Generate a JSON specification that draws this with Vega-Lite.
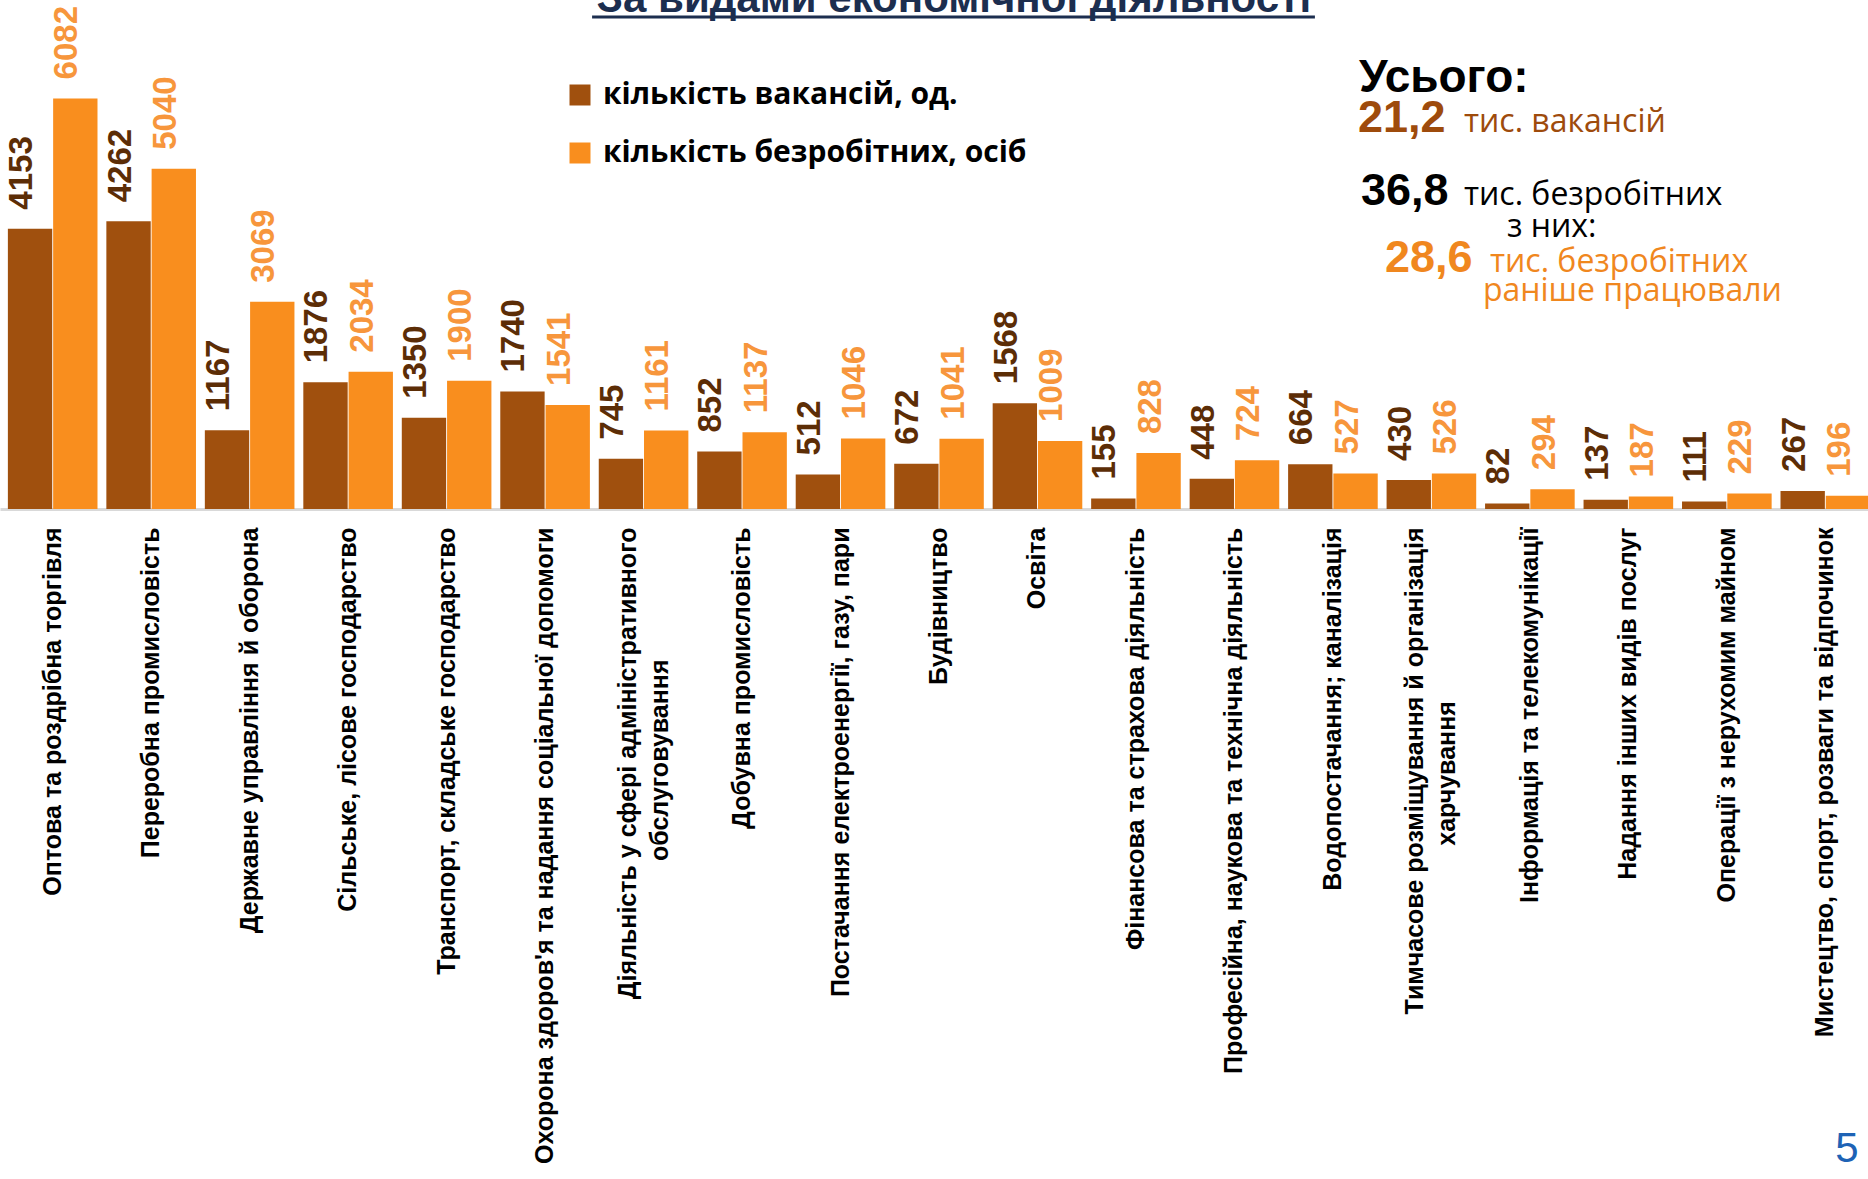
{
  "$schema": "https://vega.github.io/schema/vega-lite/v6.json",
  "width": 1868,
  "height": 509,
  "autosize": "none",
  "padding": {"left": 0, "top": 0, "right": 0, "bottom": 670},
  "background": "#ffffff",
  "config": {"view": {"stroke": null}, "font": "Liberation Sans"},
  "datasets": {
    "bars": [
      {"cat": "Оптова та роздрібна торгівля", "series": "кількість вакансій, од.", "value": 4153},
      {"cat": "Оптова та роздрібна торгівля", "series": "кількість безробітних, осіб", "value": 6082},
      {"cat": "Переробна промисловість", "series": "кількість вакансій, од.", "value": 4262},
      {"cat": "Переробна промисловість", "series": "кількість безробітних, осіб", "value": 5040},
      {"cat": "Державне управління й оборона", "series": "кількість вакансій, од.", "value": 1167},
      {"cat": "Державне управління й оборона", "series": "кількість безробітних, осіб", "value": 3069},
      {"cat": "Сільське, лісове господарство", "series": "кількість вакансій, од.", "value": 1876},
      {"cat": "Сільське, лісове господарство", "series": "кількість безробітних, осіб", "value": 2034},
      {"cat": "Транспорт, складське господарство", "series": "кількість вакансій, од.", "value": 1350},
      {"cat": "Транспорт, складське господарство", "series": "кількість безробітних, осіб", "value": 1900},
      {"cat": "Охорона здоров'я та надання соціальної допомоги", "series": "кількість вакансій, од.", "value": 1740},
      {"cat": "Охорона здоров'я та надання соціальної допомоги", "series": "кількість безробітних, осіб", "value": 1541},
      {"cat": "Діяльність у сфері адміністративного|обслуговування\u00a0\u00a0\u00a0\u00a0\u00a0\u00a0\u00a0\u00a0\u00a0\u00a0\u00a0\u00a0\u00a0\u00a0\u00a0\u00a0\u00a0\u00a0\u00a0\u200b", "series": "кількість вакансій, од.", "value": 745},
      {"cat": "Діяльність у сфері адміністративного|обслуговування\u00a0\u00a0\u00a0\u00a0\u00a0\u00a0\u00a0\u00a0\u00a0\u00a0\u00a0\u00a0\u00a0\u00a0\u00a0\u00a0\u00a0\u00a0\u00a0\u200b", "series": "кількість безробітних, осіб", "value": 1161},
      {"cat": "Добувна промисловість", "series": "кількість вакансій, од.", "value": 852},
      {"cat": "Добувна промисловість", "series": "кількість безробітних, осіб", "value": 1137},
      {"cat": "Постачання електроенергії, газу, пари", "series": "кількість вакансій, од.", "value": 512},
      {"cat": "Постачання електроенергії, газу, пари", "series": "кількість безробітних, осіб", "value": 1046},
      {"cat": "Будівництво", "series": "кількість вакансій, од.", "value": 672},
      {"cat": "Будівництво", "series": "кількість безробітних, осіб", "value": 1041},
      {"cat": "Освіта", "series": "кількість вакансій, од.", "value": 1568},
      {"cat": "Освіта", "series": "кількість безробітних, осіб", "value": 1009},
      {"cat": "Фінансова та страхова діяльність", "series": "кількість вакансій, од.", "value": 155},
      {"cat": "Фінансова та страхова діяльність", "series": "кількість безробітних, осіб", "value": 828},
      {"cat": "Професійна, наукова та технічна діяльність", "series": "кількість вакансій, од.", "value": 448},
      {"cat": "Професійна, наукова та технічна діяльність", "series": "кількість безробітних, осіб", "value": 724},
      {"cat": "Водопостачання; каналізація", "series": "кількість вакансій, од.", "value": 664},
      {"cat": "Водопостачання; каналізація", "series": "кількість безробітних, осіб", "value": 527},
      {"cat": "Тимчасове розміщування й організація|харчування\u00a0\u00a0\u00a0\u00a0\u00a0\u00a0\u00a0\u00a0\u00a0\u00a0\u00a0\u00a0\u00a0\u00a0\u00a0\u00a0\u00a0\u00a0\u00a0\u00a0\u00a0\u00a0\u00a0\u00a0\u00a0\u200b", "series": "кількість вакансій, од.", "value": 430},
      {"cat": "Тимчасове розміщування й організація|харчування\u00a0\u00a0\u00a0\u00a0\u00a0\u00a0\u00a0\u00a0\u00a0\u00a0\u00a0\u00a0\u00a0\u00a0\u00a0\u00a0\u00a0\u00a0\u00a0\u00a0\u00a0\u00a0\u00a0\u00a0\u00a0\u200b", "series": "кількість безробітних, осіб", "value": 526},
      {"cat": "Інформація та телекомунікації", "series": "кількість вакансій, од.", "value": 82},
      {"cat": "Інформація та телекомунікації", "series": "кількість безробітних, осіб", "value": 294},
      {"cat": "Надання інших видів послуг", "series": "кількість вакансій, од.", "value": 137},
      {"cat": "Надання інших видів послуг", "series": "кількість безробітних, осіб", "value": 187},
      {"cat": "Операції з нерухомим майном", "series": "кількість вакансій, од.", "value": 111},
      {"cat": "Операції з нерухомим майном", "series": "кількість безробітних, осіб", "value": 229},
      {"cat": "Мистецтво, спорт, розваги та відпочинок", "series": "кількість вакансій, од.", "value": 267},
      {"cat": "Мистецтво, спорт, розваги та відпочинок", "series": "кількість безробітних, осіб", "value": 196}
    ]
  },
  "layer": [
    {
      "data": {"name": "bars"},
      "mark": {"type": "bar"},
      "encoding": {
        "x": {
          "field": "cat", "type": "nominal",
          "scale": {
            "domain": ["Оптова та роздрібна торгівля", "Переробна промисловість", "Державне управління й оборона", "Сільське, лісове господарство", "Транспорт, складське господарство", "Охорона здоров'я та надання соціальної допомоги", "Діяльність у сфері адміністративного|обслуговування\u00a0\u00a0\u00a0\u00a0\u00a0\u00a0\u00a0\u00a0\u00a0\u00a0\u00a0\u00a0\u00a0\u00a0\u00a0\u00a0\u00a0\u00a0\u00a0\u200b", "Добувна промисловість", "Постачання електроенергії, газу, пари", "Будівництво", "Освіта", "Фінансова та страхова діяльність", "Професійна, наукова та технічна діяльність", "Водопостачання; каналізація", "Тимчасове розміщування й організація|харчування\u00a0\u00a0\u00a0\u00a0\u00a0\u00a0\u00a0\u00a0\u00a0\u00a0\u00a0\u00a0\u00a0\u00a0\u00a0\u00a0\u00a0\u00a0\u00a0\u00a0\u00a0\u00a0\u00a0\u00a0\u00a0\u200b", "Інформація та телекомунікації", "Надання інших видів послуг", "Операції з нерухомим майном", "Мистецтво, спорт, розваги та відпочинок"],
            "range": [0, 1878], "paddingInner": 0.09, "paddingOuter": 0.08
          },
          "axis": {
            "title": null, "labelAngle": -90, "labelAlign": "right", "labelBaseline": "middle",
            "labelFont": "Liberation Sans", "labelFontWeight": "bold", "labelFontSize": 25,
            "labelColor": "#000000", "labelPadding": 18, "ticks": false, "tickSize": 0,
            "domainColor": "#D9D9D9", "domainWidth": 3, "labelLimit": 800, "labelLineHeight": 32,
            "labelOffset": {"condition": {"test": "indexof(datum.label, '|') >= 0", "value": -16}, "value": 0},
            "labelExpr": "split(datum.label, '|')"
          }
        },
        "xOffset": {"field": "series", "type": "nominal", "scale": {"domain": ["кількість вакансій, од.", "кількість безробітних, осіб"], "paddingInner": 0.02}},
        "y": {"field": "value", "type": "quantitative", "scale": {"domain": [0, 7540], "nice": false}, "axis": null},
        "color": {
          "field": "series", "type": "nominal",
          "scale": {"domain": ["кількість вакансій, од.", "кількість безробітних, осіб"], "range": ["#A0500E", "#F98E1E"]},
          "legend": {
            "title": null, "orient": "none", "legendX": 565, "legendY": 80, "padding": 0,
            "symbolType": "square", "symbolSize": 441, "symbolStrokeWidth": 0,
            "labelFont": "Open Sans", "labelFontWeight": "bold", "labelFontSize": 30, "labelColor": "#000000",
            "labelOffset": 8, "rowPadding": 28, "labelLimit": 600
          }
        }
      }
    },
    {
      "data": {"name": "bars"},
      "transform": [{"filter": "datum.series === 'кількість вакансій, од.'"}],
      "mark": {"type": "text", "angle": 270, "align": "left", "baseline": "middle", "dx": 19, "dy": -8, "font": "Liberation Sans", "fontWeight": "bold", "fontSize": 33, "color": "#5C2D06"},
      "encoding": {
        "x": {"field": "cat", "type": "nominal"},
        "xOffset": {"field": "series", "type": "nominal"},
        "y": {"field": "value", "type": "quantitative"},
        "text": {"field": "value", "type": "quantitative", "format": "d"}
      }
    },
    {
      "data": {"name": "bars"},
      "transform": [{"filter": "datum.series === 'кількість безробітних, осіб'"}],
      "mark": {"type": "text", "angle": 270, "align": "left", "baseline": "middle", "dx": 19, "dy": -8, "font": "Liberation Sans", "fontWeight": "bold", "fontSize": 33, "color": "#F7963C"},
      "encoding": {
        "x": {"field": "cat", "type": "nominal"},
        "xOffset": {"field": "series", "type": "nominal"},
        "y": {"field": "value", "type": "quantitative"},
        "text": {"field": "value", "type": "quantitative", "format": "d"}
      }
    },
    {
      "data": {"values": [{"t": "За видами економічної діяльності"}]},
      "mark": {"type": "text", "align": "center", "baseline": "alphabetic", "dx": 15, "font": "Liberation Sans", "fontWeight": "bold", "fontSize": 42, "color": "#1C2E4F"},
      "encoding": {"x": {"datum": "Будівництво"}, "y": {"datum": 7362}, "text": {"field": "t"}}
    },
    {
      "data": {"values": [{"t": "underline"}]},
      "mark": {"type": "rule", "xOffset": 47, "x2Offset": -18, "strokeWidth": 3, "color": "#1C2E4F"},
      "encoding": {"x": {"datum": "Охорона здоров'я та надання соціальної допомоги"}, "x2": {"datum": "Водопостачання; каналізація"}, "y": {"datum": 7288}}
    },
    {
      "data": {"values": [{"t": "Усього:"}]},
      "mark": {"type": "text", "align": "left", "baseline": "alphabetic", "dx": 26, "font": "Liberation Sans", "fontWeight": "bold", "fontSize": 46, "color": "#000000"},
      "encoding": {"x": {"datum": "Водопостачання; каналізація"}, "y": {"datum": 6177}, "text": {"field": "t"}}
    },
    {
      "data": {"values": [{"t": "21,2"}]},
      "mark": {"type": "text", "align": "left", "baseline": "alphabetic", "dx": 25, "font": "Liberation Sans", "fontWeight": "bold", "fontSize": 45, "color": "#9E4B0C"},
      "encoding": {"x": {"datum": "Водопостачання; каналізація"}, "y": {"datum": 5584}, "text": {"field": "t"}}
    },
    {
      "data": {"values": [{"t": "тис. вакансій"}]},
      "mark": {"type": "text", "align": "left", "baseline": "alphabetic", "dx": 131, "font": "Open Sans", "fontSize": 32, "color": "#9E4B0C"},
      "encoding": {"x": {"datum": "Водопостачання; каналізація"}, "y": {"datum": 5584}, "text": {"field": "t"}}
    },
    {
      "data": {"values": [{"t": "36,8"}]},
      "mark": {"type": "text", "align": "left", "baseline": "alphabetic", "dx": 28, "font": "Liberation Sans", "fontWeight": "bold", "fontSize": 45, "color": "#000000"},
      "encoding": {"x": {"datum": "Водопостачання; каналізація"}, "y": {"datum": 4503}, "text": {"field": "t"}}
    },
    {
      "data": {"values": [{"t": "тис. безробітних"}]},
      "mark": {"type": "text", "align": "left", "baseline": "alphabetic", "dx": 131, "font": "Open Sans", "fontSize": 32, "color": "#000000"},
      "encoding": {"x": {"datum": "Водопостачання; каналізація"}, "y": {"datum": 4503}, "text": {"field": "t"}}
    },
    {
      "data": {"values": [{"t": "з них:"}]},
      "mark": {"type": "text", "align": "left", "baseline": "alphabetic", "dx": 174, "font": "Open Sans", "fontSize": 32, "color": "#000000"},
      "encoding": {"x": {"datum": "Водопостачання; каналізація"}, "y": {"datum": 4029}, "text": {"field": "t"}}
    },
    {
      "data": {"values": [{"t": "28,6"}]},
      "mark": {"type": "text", "align": "left", "baseline": "alphabetic", "dx": 52, "font": "Liberation Sans", "fontWeight": "bold", "fontSize": 45, "color": "#F0871E"},
      "encoding": {"x": {"datum": "Водопостачання; каналізація"}, "y": {"datum": 3511}, "text": {"field": "t"}}
    },
    {
      "data": {"values": [{"t": "тис. безробітних"}]},
      "mark": {"type": "text", "align": "left", "baseline": "alphabetic", "dx": 157, "font": "Open Sans", "fontSize": 32, "color": "#F0871E"},
      "encoding": {"x": {"datum": "Водопостачання; каналізація"}, "y": {"datum": 3511}, "text": {"field": "t"}}
    },
    {
      "data": {"values": [{"t": "раніше працювали"}]},
      "mark": {"type": "text", "align": "left", "baseline": "alphabetic", "dx": 150, "font": "Open Sans", "fontSize": 32, "color": "#F0871E"},
      "encoding": {"x": {"datum": "Водопостачання; каналізація"}, "y": {"datum": 3081}, "text": {"field": "t"}}
    },
    {
      "data": {"values": [{"t": "5"}]},
      "mark": {"type": "text", "align": "left", "baseline": "alphabetic", "dx": 10, "font": "Liberation Sans", "fontSize": 42, "color": "#1E63B5"},
      "encoding": {"x": {"datum": "Мистецтво, спорт, розваги та відпочинок"}, "y": {"datum": -9673}, "text": {"field": "t"}}
    }
  ]
}
